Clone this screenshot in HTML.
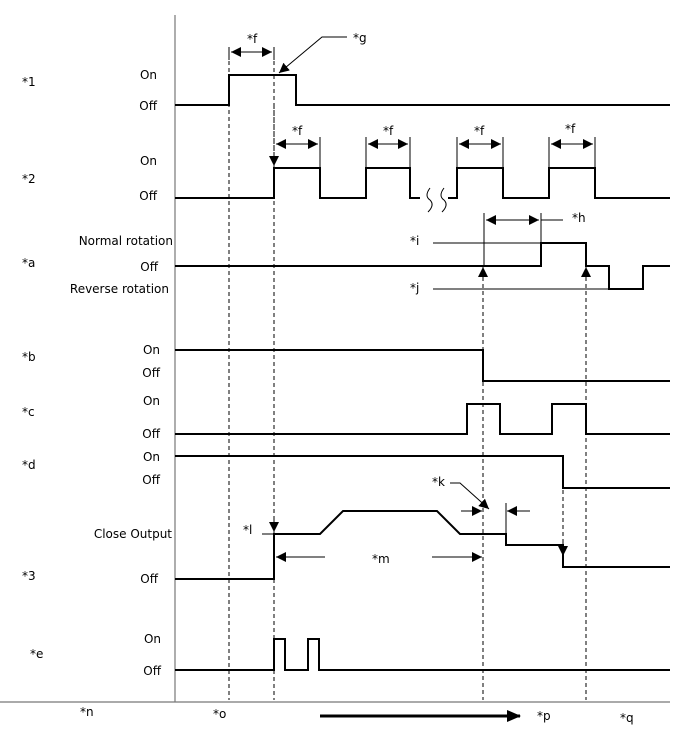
<!DOCTYPE html>
<html><head><meta charset="utf-8"><style>
html,body{margin:0;padding:0;background:#fff;}
svg{display:block;font-family:"DejaVu Sans","Liberation Sans",sans-serif;font-size:12px;}
</style></head><body>
<svg width="688" height="755" viewBox="0 0 688 755" xmlns="http://www.w3.org/2000/svg">
<defs>
<marker id="ah" viewBox="0 0 10 10" refX="10" refY="5" markerWidth="10" markerHeight="10" markerUnits="userSpaceOnUse" orient="auto"><path d="M0,0 L10,5 L0,10 z" fill="#000"/></marker>
</defs>
<!-- axes -->
<line x1="175" y1="15" x2="175" y2="702" stroke="#777" stroke-width="1.2"/>
<line x1="0" y1="702" x2="670" y2="702" stroke="#777" stroke-width="1.2"/>
<!-- dashed -->
<g stroke="#000" stroke-width="1" stroke-dasharray="4,3" fill="none">
<line x1="229" y1="47" x2="229" y2="700"/>
<line x1="274" y1="47" x2="274" y2="700"/>
<line x1="483" y1="270" x2="483" y2="700"/>
<line x1="586" y1="270" x2="586" y2="700"/>
<line x1="563" y1="490" x2="563" y2="556"/>
<line x1="274" y1="105" x2="274" y2="160"/>
</g>
<!-- signals -->
<g stroke="#000" stroke-width="2" fill="none">
<polyline points="175,105 229,105 229,75 296,75 296,105 670,105"/>
<polyline points="175,198 274,198 274,168 320,168 320,198 366,198 366,168 410,168 410,198 420,198"/>
<polyline points="448,198 457,198 457,168 503,168 503,198 549,198 549,168 595,168 595,198 670,198"/>
<polyline points="175,266 541,266 541,243 586,243 586,266 609,266 609,289 643,289 643,266 670,266"/>
<polyline points="175,350 483,350 483,381 670,381"/>
<polyline points="175,434 467,434 467,404 500,404 500,434 552,434 552,404 586,404 586,434 670,434"/>
<polyline points="175,456 563,456 563,488 670,488"/>
<polyline points="175,579 274,579 274,534 320,534 343,511 437,511 460,534 506,534 506,545 563,545 563,567 670,567"/>
<polyline points="175,670 274,670 274,639 285,639 285,670 308,670 308,639 319,639 319,670 670,670"/>
</g>
<!-- break marks -->
<g stroke="#000" stroke-width="1" fill="none">
<path d="M430,188 q-6,8 0,12 q5,5 -2,12"/>
<path d="M444,188 q-6,8 0,12 q5,5 -2,12"/>
</g>
<!-- thin annotation lines -->
<g stroke="#000" stroke-width="1" fill="none">
<line x1="229" y1="47" x2="229" y2="60"/>
<line x1="274" y1="47" x2="274" y2="60"/>
<line x1="231" y1="52" x2="272" y2="52" marker-end="url(#ah)"/>
<line x1="272" y1="52" x2="231" y2="52" marker-end="url(#ah)"/>
<polyline points="347,37 322,37 279,73" marker-end="url(#ah)"/>
<line x1="274" y1="155" x2="274" y2="166" marker-end="url(#ah)"/>
<line x1="320" y1="137" x2="320" y2="168"/><line x1="366" y1="137" x2="366" y2="168"/>
<line x1="410" y1="137" x2="410" y2="168"/><line x1="457" y1="137" x2="457" y2="168"/>
<line x1="503" y1="137" x2="503" y2="168"/><line x1="549" y1="137" x2="549" y2="168"/>
<line x1="595" y1="137" x2="595" y2="168"/>
<line x1="276" y1="144" x2="318" y2="144" marker-end="url(#ah)"/><line x1="318" y1="144" x2="276" y2="144" marker-end="url(#ah)"/>
<line x1="368" y1="144" x2="408" y2="144" marker-end="url(#ah)"/><line x1="408" y1="144" x2="368" y2="144" marker-end="url(#ah)"/>
<line x1="459" y1="144" x2="501" y2="144" marker-end="url(#ah)"/><line x1="501" y1="144" x2="459" y2="144" marker-end="url(#ah)"/>
<line x1="551" y1="144" x2="593" y2="144" marker-end="url(#ah)"/><line x1="593" y1="144" x2="551" y2="144" marker-end="url(#ah)"/>
<line x1="484" y1="213" x2="484" y2="266"/>
<line x1="541" y1="213" x2="541" y2="243"/>
<line x1="486" y1="220" x2="539" y2="220" marker-end="url(#ah)"/><line x1="539" y1="220" x2="486" y2="220" marker-end="url(#ah)"/>
<line x1="541" y1="220" x2="563" y2="220"/>
<line x1="433" y1="243" x2="541" y2="243"/>
<line x1="433" y1="289" x2="609" y2="289"/>
<line x1="483" y1="280" x2="483" y2="267" marker-end="url(#ah)"/>
<line x1="586" y1="280" x2="586" y2="267" marker-end="url(#ah)"/>
<line x1="262" y1="534" x2="274" y2="534"/>
<line x1="274" y1="518" x2="274" y2="532" marker-end="url(#ah)"/>
<line x1="325" y1="557" x2="276" y2="557" marker-end="url(#ah)"/>
<line x1="432" y1="557" x2="482" y2="557" marker-end="url(#ah)"/>
<polyline points="450,483 460,483 489,509" marker-end="url(#ah)"/>
<line x1="461" y1="511" x2="482" y2="511" marker-end="url(#ah)"/>
<line x1="530" y1="511" x2="507" y2="511" marker-end="url(#ah)"/>
<line x1="506" y1="503" x2="506" y2="534"/>
<line x1="563" y1="540" x2="563" y2="556" marker-end="url(#ah)"/>
</g>
<line x1="320" y1="716" x2="520" y2="716" stroke="#000" stroke-width="3"/>
<path d="M507,710 L521,716 L507,722 z" fill="#000"/>
<!-- labels -->
<g fill="#000">
<text x="247" y="43">*f</text><text x="353" y="42">*g</text>
<text x="292" y="135">*f</text><text x="383" y="135">*f</text><text x="474" y="135">*f</text><text x="565" y="133">*f</text>
<text x="572" y="222">*h</text><text x="410" y="245">*i</text><text x="410" y="292">*j</text>
<text x="432" y="486">*k</text><text x="243" y="534">*l</text><text x="372" y="563">*m</text>
<text x="22" y="86">*1</text><text x="22" y="183">*2</text><text x="22" y="267">*a</text>
<text x="22" y="361">*b</text><text x="22" y="416">*c</text><text x="22" y="469">*d</text>
<text x="22" y="580">*3</text><text x="30" y="658">*e</text>
<text x="80" y="716">*n</text><text x="213" y="718">*o</text><text x="537" y="720">*p</text><text x="620" y="722">*q</text>
</g>
<g fill="#000" text-anchor="end">
<text x="157" y="79">On</text><text x="157" y="110">Off</text>
<text x="157" y="165">On</text><text x="157" y="200">Off</text>
<text x="173" y="245">Normal rotation</text><text x="158" y="271">Off</text><text x="169" y="293">Reverse rotation</text>
<text x="160" y="354">On</text><text x="160" y="377">Off</text>
<text x="160" y="405">On</text><text x="160" y="438">Off</text>
<text x="160" y="461">On</text><text x="160" y="484">Off</text>
<text x="172" y="538">Close Output</text><text x="158" y="583">Off</text>
<text x="161" y="643">On</text><text x="161" y="675">Off</text>
</g>
</svg>
</body></html>
